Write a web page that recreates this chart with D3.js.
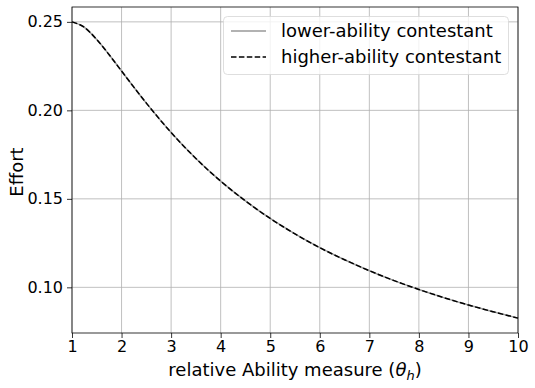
<!DOCTYPE html>
<html>
<head>
<meta charset="utf-8">
<script src="https://cdn.jsdelivr.net/npm/d3@7"></script>
<style>
  body { margin: 0; background: #fff; }
  svg { font-family: "DejaVu Sans", sans-serif; }
</style>
</head>
<body>
<svg id="chart"></svg>
<script>
const theta = [1, 1.25, 1.5, 1.75, 2, 2.5, 3, 3.5, 4, 4.5, 5, 5.5, 6, 6.5, 7, 7.5, 8, 8.5, 9, 9.5, 10];
const lowerEffort = [0.2500, 0.2469, 0.2400, 0.2314, 0.2222, 0.2041, 0.1875, 0.1728, 0.1600, 0.1488, 0.1389,
  0.1302, 0.1224, 0.1156, 0.1094, 0.1038, 0.0988, 0.0942, 0.0900, 0.0862, 0.0826];
const higherEffort = [0.2500, 0.2469, 0.2400, 0.2314, 0.2222, 0.2041, 0.1875, 0.1728, 0.1600, 0.1488, 0.1389,
  0.1302, 0.1224, 0.1156, 0.1094, 0.1038, 0.0988, 0.0942, 0.0900, 0.0862, 0.0826];
const xTicks = [1, 2, 3, 4, 5, 6, 7, 8, 9, 10];
const yTicks = [0.10, 0.15, 0.20, 0.25];
const seriesNames = ["lower-ability contestant", "higher-ability contestant"];

const width = 535, height = 388;
const margin = { left: 72, right: 17, top: 7, bottom: 55 };

const svg = d3.select("#chart").attr("width", width).attr("height", height);

const x = d3.scaleLinear().domain([1, 10]).range([margin.left, width - margin.right]);
const y = d3.scaleLinear().domain([0.0742, 0.2584]).range([height - margin.bottom, margin.top]);

// grid
svg.append("g").selectAll("line").data(xTicks).enter().append("line")
  .attr("x1", d => x(d)).attr("x2", d => x(d))
  .attr("y1", y.range()[0]).attr("y2", y.range()[1])
  .attr("stroke", "#b0b0b0").attr("stroke-width", 0.8);
svg.append("g").selectAll("line").data(yTicks).enter().append("line")
  .attr("y1", d => y(d)).attr("y2", d => y(d))
  .attr("x1", x.range()[0]).attr("x2", x.range()[1])
  .attr("stroke", "#b0b0b0").attr("stroke-width", 0.8);

// lines
const pts = (vals) => theta.map((t, i) => [t, vals[i]]);
const line = d3.line().x(d => x(d[0])).y(d => y(d[1])).curve(d3.curveMonotoneX);

svg.append("path").datum(pts(lowerEffort)).attr("d", line)
  .attr("fill", "none").attr("stroke", "#999").attr("stroke-width", 1.5);
svg.append("path").datum(pts(higherEffort)).attr("d", line)
  .attr("fill", "none").attr("stroke", "#000").attr("stroke-width", 1.5)
  .attr("stroke-dasharray", "5.5,2.4");

// axes
const xAxis = svg.append("g").attr("transform", `translate(0,${height - margin.bottom})`)
  .call(d3.axisBottom(x).tickValues(xTicks).tickFormat(d3.format("d")).tickSize(5).tickPadding(3));
const yAxis = svg.append("g").attr("transform", `translate(${margin.left},0)`)
  .call(d3.axisLeft(y).tickValues(yTicks).tickFormat(d3.format(".2f")).tickSize(5).tickPadding(4));
[xAxis, yAxis].forEach(a => {
  a.selectAll("text").attr("font-size", 16).attr("fill", "#000").attr("font-family", "DejaVu Sans");
  a.select(".domain").remove();
  a.selectAll("line").attr("stroke", "#000").attr("stroke-width", 0.8);
});

// frame
svg.append("rect")
  .attr("x", margin.left).attr("y", margin.top)
  .attr("width", width - margin.left - margin.right)
  .attr("height", height - margin.top - margin.bottom)
  .attr("fill", "none").attr("stroke", "#000").attr("stroke-width", 0.8);

// axis labels
const xl = svg.append("text").attr("x", (x.range()[0] + x.range()[1]) / 2).attr("y", 376)
  .attr("text-anchor", "middle").attr("font-size", 18);
xl.append("tspan").text("relative Ability measure (");
xl.append("tspan").attr("font-style", "italic").text("θ");
xl.append("tspan").attr("font-style", "italic").attr("font-size", 13).attr("dy", 4).text("h");
xl.append("tspan").attr("dy", -4).text(")");

svg.append("text")
  .attr("transform", `translate(23,${(y.range()[0] + y.range()[1]) / 2 + 2}) rotate(-90)`)
  .attr("text-anchor", "middle").attr("font-size", 18).text("Effort");

// legend
const lg = svg.append("g");
lg.append("rect").attr("x", 223.5).attr("y", 16.5).attr("width", 285).attr("height", 58)
  .attr("rx", 4).attr("fill", "#fff").attr("fill-opacity", 0.8)
  .attr("stroke", "#d6d6d6").attr("stroke-width", 0.8);
const styles = [{ c: "#999", dash: null }, { c: "#000", dash: "5.5,2.4" }];
seriesNames.forEach((name, i) => {
  const yy = 31 + i * 26;
  lg.append("line").attr("x1", 231).attr("x2", 266).attr("y1", yy).attr("y2", yy)
    .attr("stroke", styles[i].c).attr("stroke-width", 1.5)
    .attr("stroke-dasharray", styles[i].dash);
  lg.append("text").attr("x", 281).attr("y", yy).attr("dy", "0.36em")
    .attr("font-size", 18).text(name);
});
</script>
</body>
</html>
